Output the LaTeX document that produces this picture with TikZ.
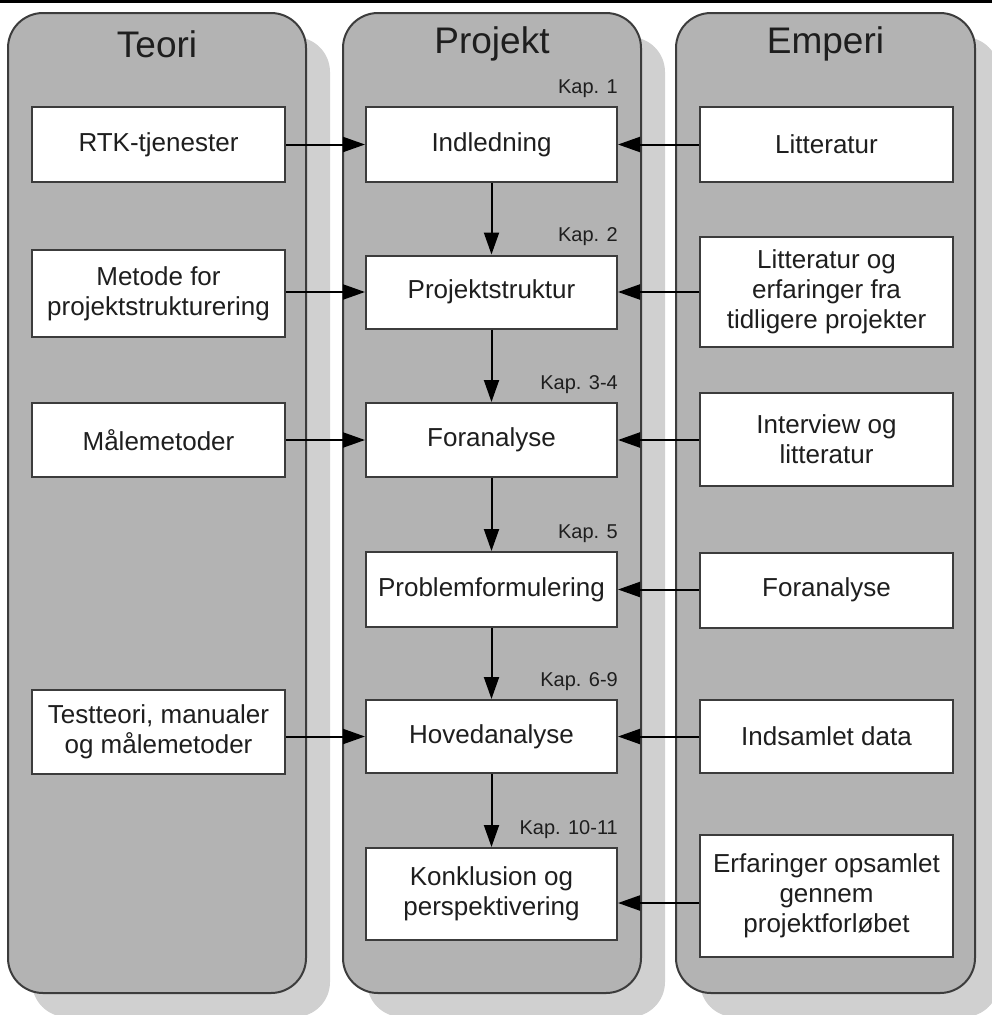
\documentclass[tikz,border=0pt]{standalone}
\usepackage{fontspec}
\setmainfont{Liberation Sans}
\usetikzlibrary{arrows.meta,positioning,shapes,shadows,calc}
\definecolor{panelgray}{RGB}{179,179,179}
\definecolor{shadegray}{RGB}{208,208,208}
\definecolor{linegray}{RGB}{60,60,60}
\definecolor{textgray}{RGB}{30,30,30}
\begin{document}
\begin{tikzpicture}[x=1pt,y=-1pt,
  panel/.style={rectangle,rounded corners=35pt,draw=linegray,line width=2pt,fill=panelgray,minimum height=980pt,
    drop shadow={shadow xshift=24pt,shadow yshift=-24pt,fill=shadegray,opacity=1}},
  title/.style={font=\fontsize{37}{44}\selectfont,text=textgray},
  box/.style={rectangle,draw=linegray,line width=2pt,fill=white,text=textgray,align=center,inner sep=0pt,
    font=\fontsize{26}{30}\selectfont},
  kap/.style={anchor=base east,inner sep=0pt,text=textgray,font=\fontsize{20}{24}\selectfont},
  arr/.style={line width=2pt,-{Triangle[length=22pt,width=15pt]}}]
\useasboundingbox (0,0) rectangle (992,1015);
\clip (0,0) rectangle (992,1015);
\draw[line width=3pt] (0,1.5) -- (992,1.5);
% columns
\node[panel,minimum width=298pt] (teori) at (157,503) {};
\node[panel,minimum width=298pt] (projekt) at (492,503) {};
\node[panel,minimum width=299pt] (emperi) at (825.5,503) {};
\node[title] (tTeori) at (157,44) {Teori};
\node[title] (tProjekt) at (492,44) {Projekt};
\node[title] (tEmperi) at (825.5,44) {Emperi};
\begin{scope}[every node/.style={box}]
% Teori
\node[minimum width=253pt,minimum height=75pt] (t1) at (158.5,144.5) {RTK-tjenester};
\node[minimum width=253pt,minimum height=87pt] (t2) at (158.5,293.5) {Metode for\\projektstrukturering};
\node[minimum width=253pt,minimum height=74pt] (t3) at (158.5,440) {Målemetoder};
\node[minimum width=253pt,minimum height=84pt] (t4) at (158.5,732) {Testteori, manualer\\og målemetoder};
% Projekt
\node[minimum width=251pt,minimum height=75pt] (p1) at (491.5,144.5) {Indledning};
\node[minimum width=251pt,minimum height=73pt] (p2) at (491.5,292) {Projektstruktur};
\node[minimum width=251pt,minimum height=74pt] (p3) at (491.5,440) {Foranalyse};
\node[minimum width=251pt,minimum height=75pt] (p4) at (491.5,589.5) {Problemformulering};
\node[minimum width=251pt,minimum height=73pt] (p5) at (491.5,736.5) {Hovedanalyse};
\node[minimum width=251pt,minimum height=92pt] (p6) at (491.5,894) {Konklusion og\\perspektivering};
% Emperi
\node[minimum width=253pt,minimum height=75pt] (e1) at (826.5,144.5) {Litteratur};
\node[minimum width=253pt,minimum height=110pt] (e2) at (826.5,292) {Litteratur og\\erfaringer fra\\tidligere projekter};
\node[minimum width=253pt,minimum height=93pt] (e3) at (826.5,439.5) {Interview og\\litteratur};
\node[minimum width=253pt,minimum height=75pt] (e4) at (826.5,590) {Foranalyse};
\node[minimum width=253pt,minimum height=73pt] (e5) at (826.5,736.5) {Indsamlet data};
\node[minimum width=253pt,minimum height=122pt] (e6) at (826.5,896) {Erfaringer opsamlet\\gennem\\projektforløbet};
\end{scope}
% kapitler
\node[kap] (k1) at ([yshift=13pt]p1.north east) {Kap. 1};
\node[kap] (k2) at ([yshift=13pt]p2.north east) {Kap. 2};
\node[kap] (k3) at ([yshift=13pt]p3.north east) {Kap. 3-4};
\node[kap] (k4) at ([yshift=13pt]p4.north east) {Kap. 5};
\node[kap] (k5) at ([yshift=13pt]p5.north east) {Kap. 6-9};
\node[kap] (k6) at ([yshift=13pt]p6.north east) {Kap. 10-11};
\begin{scope}[every path/.style={arr}]
\draw (p1) -- (p2);
\draw (p2) -- (p3);
\draw (p3) -- (p4);
\draw (p4) -- (p5);
\draw (p5) -- (p6);
\draw (t1) -- (p1);
\draw (t2.east |- p2) -- (p2);
\draw (t3) -- (p3);
\draw (t4.east |- p5) -- (p5);
\draw (e1) -- (p1);
\draw (e2) -- (p2);
\draw (e3.west |- p3) -- (p3);
\draw (e4.west |- p4) -- (p4);
\draw (e5) -- (p5);
\draw ([yshift=-7pt]e6.west) -- ([yshift=-7pt]e6.west -| p6.east);
\end{scope}
\end{tikzpicture}
\end{document}
